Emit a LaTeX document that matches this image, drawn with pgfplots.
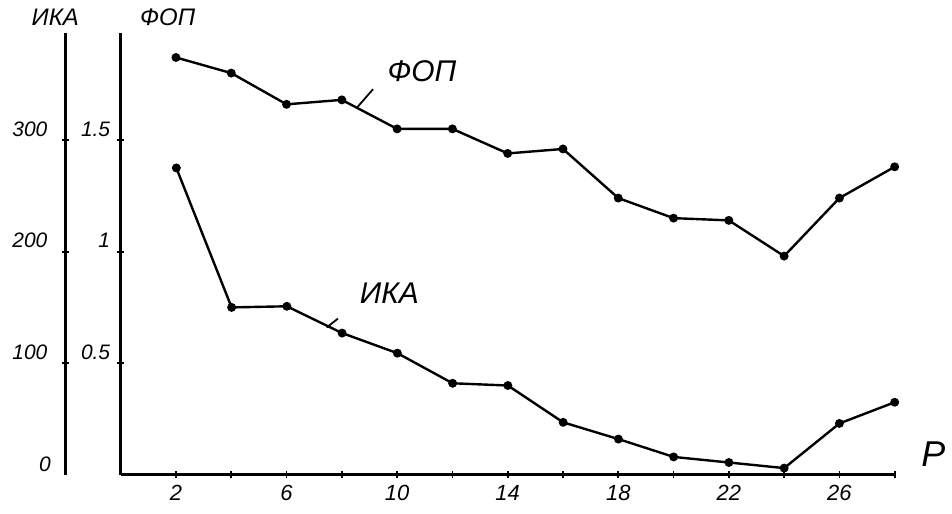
\documentclass[border=0pt]{standalone}
\usepackage{fontspec}
\setmainfont{Liberation Sans}
\usepackage{pgfplots}
\pgfplotsset{compat=1.18}

\pgfplotstableread{
p fop
2 1.87
4 1.80
6 1.66
8 1.68
10 1.55
12 1.55
14 1.44
16 1.46
18 1.24
20 1.15
22 1.14
24 0.98
26 1.24
28 1.38
}\fopdata

\pgfplotstableread{
p ika
2 275
4 150
6 151
8 127
10 109
12 82
14 80
16 47
18 32
20 16
22 11
24 6
26 46
28 65
}\ikadata

\begin{document}
\begin{tikzpicture}
\pgfplotsset{
  common/.style={
    scale only axis, height=221.5pt,
    tick style={black,line width=0.9pt},
    tick align=outside, major tick length=3.5pt,
    /pgf/number format/assume math mode=true,
    ticklabel style={font=\itshape\fontsize{10.5}{11}\selectfont},
    clip=false,
  }
}
% ИКА axis (left)
\begin{axis}[common,
  at={(33pt,-238pt)}, anchor=south west,
  width=415.5pt,
  xmin=-2, xmax=28, ymin=0, ymax=396,
  hide x axis, axis y line=left,
  axis line style={line width=1.4pt,-},
  ytick={100,200,300}, extra y ticks={0}, extra y tick style={major tick length=0pt},
  yticklabel style={yshift=5.5pt, xshift=-4pt},
]
\addplot[black, line width=1.2pt, mark=*, mark size=1.6pt] table[x=p, y=ika] {\ikadata};
\draw[line width=0.9pt] (axis cs:7.44,132) -- (axis cs:7.85,140);
\node[font=\itshape\fontsize{15}{16}\selectfont] at (axis cs:9.71,163) {ИКА};
\node[font=\itshape\fontsize{12}{13}\selectfont] at (axis cs:-2.38,410) {ИКА};
\end{axis}
% ФОП axis
\begin{axis}[common,
  at={(60.5pt,-238pt)}, anchor=south west,
  width=388pt,
  xmin=0, xmax=28, ymin=0, ymax=1.98,
  axis x line=bottom, axis y line=left,
  axis line style={line width=1.4pt,-},
  xtick={2,4,...,28},
  xticklabels={2,,6,,10,,14,,18,,22,,26,},
  ytick={0.5,1,1.5},
  yticklabel style={yshift=5.5pt},
  xticklabel style={font=\itshape\fontsize{11}{12}\selectfont},
]
\addplot[black, line width=1.2pt, mark=*, mark size=1.6pt] table[x=p, y=fop] {\fopdata};
\draw[line width=0.9pt] (axis cs:8.56,1.647) -- (axis cs:9.13,1.728);
\node[font=\itshape\fontsize{15}{16}\selectfont] at (axis cs:10.9,1.81) {ФОП};
\node[font=\itshape\fontsize{12}{13}\selectfont] at (axis cs:1.70,2.05) {ФОП};
\node[font=\itshape\fontsize{18}{19}\selectfont] at (axis cs:29.4,0.094) {P};
\end{axis}
\useasboundingbox (0pt,0pt) rectangle (476pt,-257.5pt);
\end{tikzpicture}
\end{document}
